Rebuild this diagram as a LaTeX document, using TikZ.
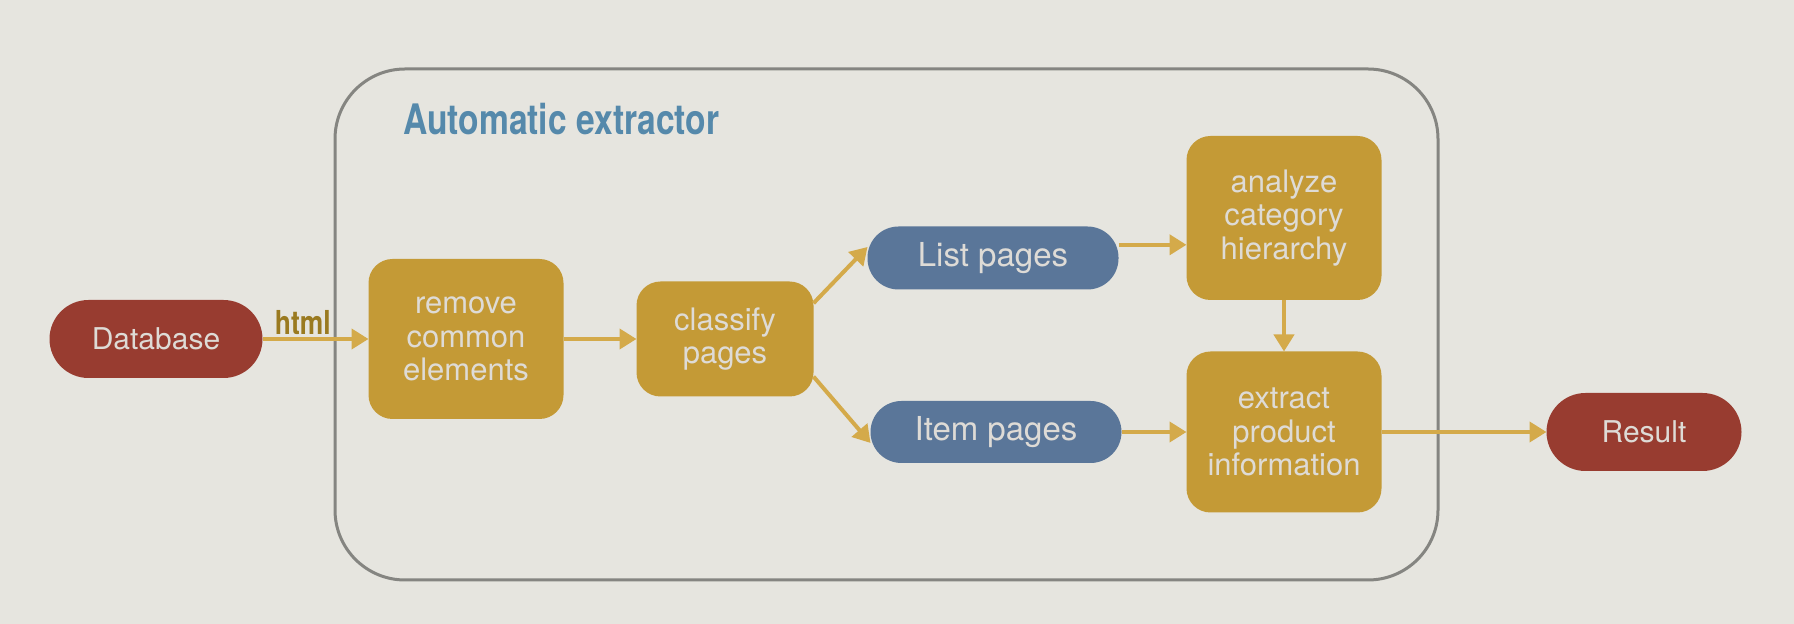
\documentclass[tikz,border=0pt]{standalone}
\usepackage{fontspec}
\setmainfont{TeX Gyre Heros}
\newfontfamily\condfont[FakeStretch=0.8]{TeX Gyre Heros}
\usetikzlibrary{arrows.meta}
\definecolor{bgc}{HTML}{E6E5DF}
\definecolor{redc}{HTML}{983C30}
\definecolor{goldc}{HTML}{C49A36}
\definecolor{bluec}{HTML}{5A7699}
\definecolor{txtc}{HTML}{DEDBD6}
\definecolor{arrc}{HTML}{D4AA4A}
\definecolor{framec}{HTML}{858581}
\definecolor{titlec}{HTML}{5589AB}
\definecolor{htmlc}{HTML}{9A7A20}
\tikzset{
  pill/.style={fill=#1, text=txtc, rounded corners=15.5pt, inner sep=0pt, outer sep=0pt,
    font=\fontsize{15}{17}\selectfont, align=center},
  bpill/.style={pill=bluec, font=\fontsize{16.5}{18}\selectfont},
  gbox/.style={fill=goldc, text=txtc, rounded corners=12pt, inner sep=0pt, outer sep=0pt,
    font=\fontsize{15.5}{16.8}\selectfont, align=center},
  flow/.style={draw=arrc, line width=2pt, -{Triangle[length=8.5pt,width=10pt]}},
}
\begin{document}
\begin{tikzpicture}[x=0.5pt,y=-0.5pt]
\fill[bgc] (0,0) rectangle (1794,624);
\useasboundingbox (0,0) rectangle (1794,624);
\draw[framec, line width=1.5pt, rounded corners=35pt] (335,69) rectangle (1438,580);
\node[anchor=base west, text=titlec, font=\condfont\bfseries\fontsize{21}{24}\selectfont, inner sep=0pt] (title) at (403,135) {Automatic extractor};

\node[pill=redc, minimum width=106.5pt, minimum height=39pt, rounded corners=19.5pt] (db) at (156,339) {Database};
\node[gbox, minimum width=97.5pt, minimum height=80pt] (remove) at (466,339) {remove\\common\\elements};
\node[gbox, minimum width=88.5pt, minimum height=57.5pt] (classify) at (725,339) {classify\\pages};
\node[bpill, minimum width=125.5pt, minimum height=31.5pt] (list) at (993,258) {List pages};
\node[bpill, minimum width=125.5pt, minimum height=31pt] (item) at (996,432) {Item pages};
\node[gbox, minimum width=97.5pt, minimum height=82pt] (analyze) at (1284,218) {analyze\\category\\hierarchy};
\node[gbox, minimum width=97.5pt, minimum height=80.5pt] (extract) at (1284,432) {extract\\product\\information};
\node[pill=redc, minimum width=97.5pt, minimum height=39pt, rounded corners=19.5pt] (result) at (1644,432) {Result};

\draw[flow] (db.east) -- node[pos=0.38, above=1pt, inner sep=0pt, text=htmlc, font=\condfont\bfseries\fontsize{16.5}{18}\selectfont] (html) {html} (remove.west);
\draw[flow] (remove.east) -- (classify.west);
\draw[flow] (classify.22.6) -- (list.175);
\draw[flow] (classify.-23) -- (item.185);
\draw[flow] (list.6) -- (list.6 -| analyze.west);
\draw[flow] (item.east) -- (extract.west);
\draw[flow] (analyze.south) -- (extract.north);
\draw[flow] (extract.east) -- (result.west);
\end{tikzpicture}
\end{document}
